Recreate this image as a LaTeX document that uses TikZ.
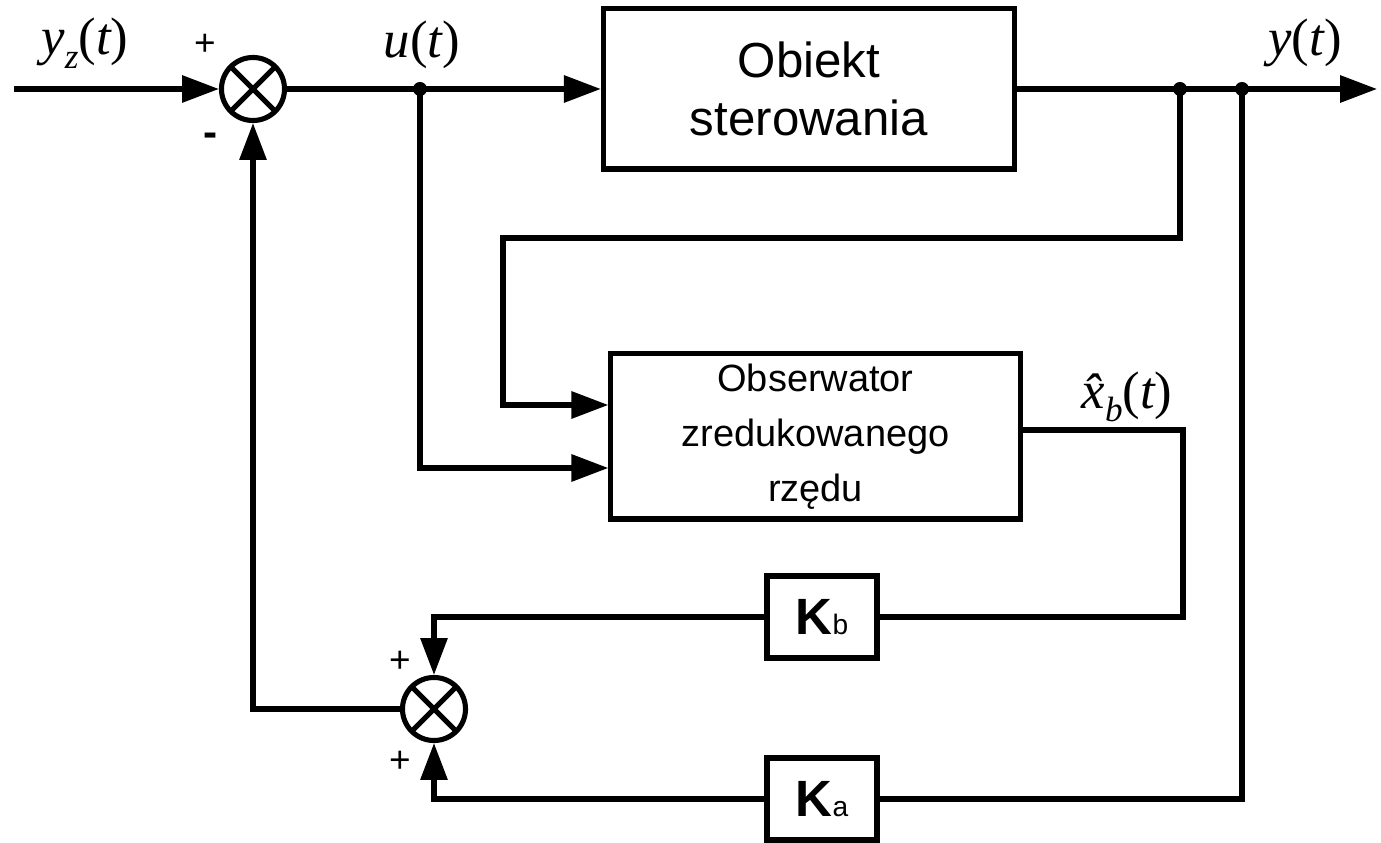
\documentclass[tikz,border=0pt]{standalone}
\usepackage{fontspec}
\setsansfont{Liberation Sans}
\newfontfamily\serifvar{Liberation Serif}
\usetikzlibrary{arrows.meta,calc}

% italic variable in a Times-like face
\newcommand{\var}[1]{{\serifvar\itshape #1}}
\newcommand{\rpar}[1]{{\serifvar #1}}

\tikzset{
  wire/.style={line width=1.45pt},
  arr/.style={wire,-{Triangle[length=10.5pt,width=7.5pt]}},
  blockbox/.style={draw,line width=1.45pt,rectangle,inner sep=0pt,align=center,font=\sffamily},
  summer/.style={draw,circle,line width=1.45pt,minimum size=0.63cm,inner sep=0pt,
    path picture={
      \draw[line width=1.45pt]
        (path picture bounding box.north west) -- (path picture bounding box.south east)
        (path picture bounding box.north east) -- (path picture bounding box.south west);
    }},
  junction/.style={circle,fill,inner sep=0pt,minimum size=0.14cm},
  sign/.style={font=\sffamily\fontsize{10.5}{12}\selectfont},
  siglabel/.style={font=\fontsize{15}{17}\selectfont},
  gain/.style={blockbox,minimum width=1.10cm,minimum height=0.82cm,font=\sffamily\fontsize{14.5}{16}\selectfont},
}

\begin{document}
\begin{tikzpicture}[x=0.01cm,y=-0.01cm]
  \useasboundingbox (0,0) rectangle (1381,843);

  % blocks
  \node[summer] (s1) at (253,89) {};
  \node[summer] (s2) at (434,709) {};
  \node[blockbox,minimum width=4.11cm,minimum height=1.60cm,
        font=\sffamily\fontsize{14}{16.5}\selectfont] (plant) at (809,89) {Obiekt\\sterowania};
  \node[blockbox,minimum width=4.09cm,minimum height=1.65cm,
        font=\sffamily\fontsize{10.8}{15.6}\selectfont] (obs) at (815.5,436.5) {Obserwator\\zredukowanego\\rzędu};
  \node[gain] (kb) at (822,617) {\textbf{K}{\fontsize{8}{9}\selectfont b}};
  \node[gain] (ka) at (822,799) {\textbf{K}{\fontsize{8}{9}\selectfont a}};

  % branch points and free ends
  \coordinate (in) at (14,89);
  \coordinate (out) at (1377,89);
  \node[junction] (ju) at (420,89) {};
  \node[junction] (j1) at (1180,89) {};
  \node[junction] (j2) at (1242,89) {};
  \coordinate (yback) at (1180,238);
  \coordinate (ybackl) at (503,238);
  \coordinate (obsy) at (0,405);
  \coordinate (obsu) at (0,468);
  \coordinate (obsout) at (0,430);
  \coordinate (xbdown) at (1183,617);

  % forward path
  \draw[arr] (in) -- (s1.west);
  \draw[arr] (s1.east) -- (plant.west);
  \draw[arr] (plant.east) -- (out);

  % observer inputs
  \draw[arr] (j1.center) -- (yback) -- (ybackl) |- (obs.west |- obsy);
  \draw[arr] (ju.center) |- (obs.west |- obsu);

  % state feedback
  \draw[wire] (obs.east |- obsout) -| (xbdown) -- (kb.east);
  \draw[arr] (kb.west) -| (s2.north);
  \draw[wire] (j2.center) |- (ka.east);
  \draw[arr] (ka.west) -| (s2.south);
  \draw[arr] (s2.west) -| (s1.south);

  % signs
  \node[sign] (p1) at (205,45) {+};
  \node[sign,font=\sffamily\bfseries\fontsize{12}{12}\selectfont] (m1) at (211,140) {-};
  \node[sign] (p2) at (400,662) {+};
  \node[sign] (p3) at (400,762) {+};

  % signal labels
  \node[siglabel] (lyz) at (85,43) {\var{y}\raisebox{-0.6ex}{\fontsize{10}{10}\selectfont\var{z}}\rpar{(}\var{t}\rpar{)}};
  \node[siglabel] (lu) at (422,45) {\var{u}\rpar{(}\var{t}\rpar{)}};
  \node[siglabel] (ly) at (1305,43) {\var{y}\rpar{(}\var{t}\rpar{)}};
  \node[siglabel] (lx) at (1127,397) {\var{\^{x}}\raisebox{-0.6ex}{\fontsize{10}{10}\selectfont\var{b}}\rpar{(}\var{t}\rpar{)}};
\end{tikzpicture}
\end{document}
